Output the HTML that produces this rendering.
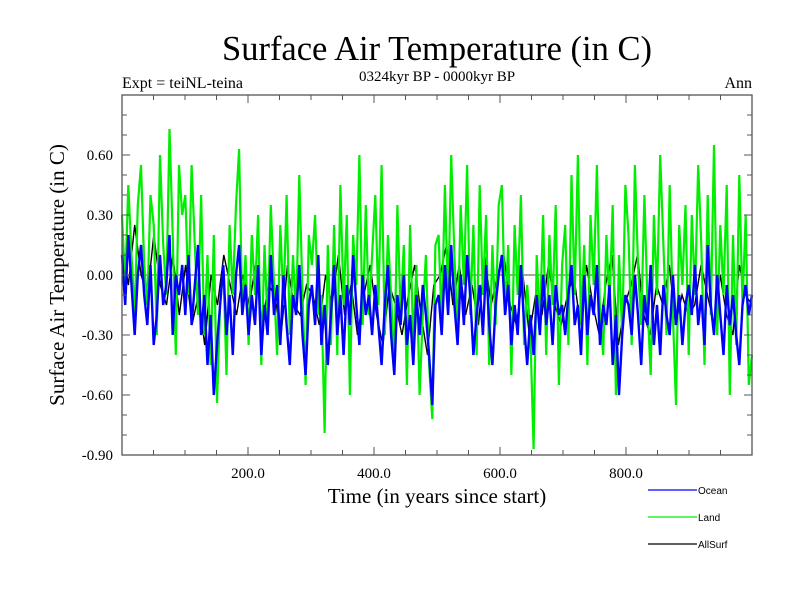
<!DOCTYPE html>
<html><head><meta charset="utf-8"><style>
body{margin:0;background:#fff}
svg{display:block}
.serif{font-family:"Liberation Serif",serif}
.sans{font-family:"Liberation Sans",sans-serif}
</style></head><body>
<svg id="chart" width="800" height="600" xmlns="http://www.w3.org/2000/svg">
<text class="serif" x="437" y="60" font-size="34.5" text-anchor="middle">Surface Air Temperature (in C)</text>
<text class="serif" x="122" y="88" font-size="16">Expt = teiNL-teina</text>
<text class="serif" x="437" y="81" font-size="15" text-anchor="middle">0324kyr BP - 0000kyr BP</text>
<text class="serif" x="752" y="88" font-size="16" text-anchor="end">Ann</text>
<text class="serif" x="437" y="503" font-size="21" text-anchor="middle">Time (in years since start)</text>
<text class="serif" x="0" y="0" font-size="21" text-anchor="middle" transform="translate(64,275) rotate(-90)">Surface Air Temperature (in C)</text>
<g id="plot"></g>
<g id="axes"></g>
<g>
<g><line x1="648" y1="490" x2="697" y2="490" stroke="#0000ff" stroke-width="1.3"/><text class="sans" x="698" y="494" font-size="10">Ocean</text></g>
<g><line x1="648" y1="517" x2="697" y2="517" stroke="#00ee00" stroke-width="1.3"/><text class="sans" x="698" y="521" font-size="10">Land</text></g>
<g><line x1="648" y1="544" x2="697" y2="544" stroke="#000" stroke-width="1.3"/><text class="sans" x="698" y="548" font-size="10">AllSurf</text></g>
</g>
</svg>
<script>
const land = [30,-5,45,10,-20,35,55,5,-15,40,25,-30,60,15,-10,73,20,-40,55,30,
40,-10,55,15,-20,40,-30,10,-45,20,-64,-15,5,-50,25,-10,35,63,-20,10,
-35,20,-10,30,-45,15,-25,35,-5,-40,25,-15,40,-30,10,-20,50,-10,-55,20,
5,30,-20,-10,-79,15,-35,25,-40,45,-15,30,-60,20,-5,60,-25,35,-20,10,
40,-15,55,-30,20,-10,-45,35,-20,15,-55,25,-35,5,-60,-20,10,-45,-72,15,
20,-25,45,-15,60,10,-30,35,-5,55,-20,25,-40,45,-10,30,-45,15,-25,35,
45,-20,15,-50,25,-10,40,-35,-5,-30,-87,10,-25,30,-40,20,-15,35,-55,5,
25,-35,50,-10,60,-25,15,-45,30,-5,55,-20,-40,20,-15,35,-60,10,-30,45,
20,-35,55,5,-25,40,-15,-50,30,-10,60,15,-30,45,-20,-65,25,-5,35,-40,
30,-10,55,15,-45,40,-20,65,-30,25,-10,45,-60,20,-35,50,-15,30,-55,-40];
const ocean = [10,-15,20,-5,-30,0,15,-10,-25,5,-35,-20,10,-15,-5,20,-30,0,-10,5,
-20,10,-25,-5,15,-30,-10,-45,-20,-60,-35,-15,5,-30,-10,-40,0,15,-20,-5,
-30,-10,-25,5,-40,-15,-30,10,-20,-5,-35,0,-25,-45,-10,-20,5,-30,-50,-15,
-5,-25,10,-35,-15,-45,-20,5,-30,-10,-40,-5,-25,10,-15,-35,0,-20,-10,-30,
-5,-25,-45,-15,5,-30,-50,-10,-25,0,-35,-20,-45,-10,-30,-5,-20,-40,-65,-15,
-10,-30,5,-20,15,-15,-35,0,-25,10,-10,-40,-20,-5,-30,5,-25,-45,-15,0,
10,-20,-5,-35,-15,-30,5,-25,-45,-20,-40,-10,-30,0,-25,-10,-35,-5,-20,-15,
-30,-10,5,-25,-15,-40,0,-30,-10,-20,5,-35,-15,-25,-5,-45,-20,-60,-30,-10,
-15,-30,0,-20,-45,-10,-25,5,-35,-15,-40,-5,-20,-30,0,-25,-10,-35,-15,-5,
-20,5,-25,-10,-35,15,-15,-30,0,-20,-40,-5,-25,-10,-30,-45,-15,-5,-20,-10];
const allSurf = [15,-5,25,0,-10,20,-5,-15,10,-20,5,-25,-10,-35,0,-15,10,-5,-20,0,
-15,5,-25,-5,-10,-30,5,-15,-20,-5,-10,-25,0,-15,10,-20,-5,-30,-10,5,
-20,-35,-5,-15,-30,-10,5,-20,-40,-5,0,15,-15,5,-20,-5,-25,10,-15,0,
10,-15,-25,0,-30,-10,-20,5,-15,-25,-10,0,-25,5,-15,-30,-5,10,-35,-15,
-5,10,-20,-30,-5,-15,5,-25,-10,-20,-15,5,-10,-25,0,-20,-30,5,-10,-15];
const yTicks = [0.60,0.30,0.00,-0.30,-0.60,-0.90];
const yTickLabels = ["0.60","0.30","0.00","-0.30","-0.60","-0.90"];
const xTicks = [200,400,600,800];
const xTickLabels = ["200.0","400.0","600.0","800.0"];

const L=122,R=752,T=95,B=455;
const xs = v => L + (v/1000)*(R-L);
const ys = v => 275 - v*200;
const NS="http://www.w3.org/2000/svg";
const plot=document.getElementById('plot'), axes=document.getElementById('axes');
function mk(tag,attrs,parent){const e=document.createElementNS(NS,tag);for(const k in attrs)e.setAttribute(k,attrs[k]);parent.appendChild(e);return e;}

const zl=mk('line',{x1:L,x2:R,y1:ys(0),y2:ys(0),stroke:'#888','stroke-width':1.5},plot);



function series(arr,color,name,w){
  const step=1000/(arr.length-1);
  const pts=arr.map((v,i)=>xs(i*step).toFixed(1)+','+ys(v/100).toFixed(1)).join(' ');
  const p=mk('polyline',{points:pts,fill:'none',stroke:color,'stroke-width':w,'stroke-linejoin':'miter'},plot);
  
  
}
series(allSurf,'#000','allsurf-series',1.4);
series(land,'#00ee00','land-series',2.2);
series(ocean,'#0000ff','ocean-series',2.4);

const frame=mk('rect',{x:L,y:T,width:R-L,height:B-T,fill:'none',stroke:'#555','stroke-width':1.3},axes);


for(let v=-0.9;v<=0.901;v+=0.1){
  const y=ys(v), major=Math.abs(Math.round(v*10)%3)===0, len=major?8:5;
  mk('line',{x1:L,x2:L+len,y1:y,y2:y,stroke:'#555'},axes);
  mk('line',{x1:R,x2:R-len,y1:y,y2:y,stroke:'#555'},axes);
}
for(let x=0;x<=1000;x+=50){
  const major=x%200===0, len=major?8:5;
  mk('line',{x1:xs(x),x2:xs(x),y1:B,y2:B-len,stroke:'#555'},axes);
  mk('line',{x1:xs(x),x2:xs(x),y1:T,y2:T+len,stroke:'#555'},axes);
}
yTicks.forEach((v,i)=>{
  const t=mk('text',{x:113,y:ys(v)+5,'font-size':15,'text-anchor':'end','class':'serif'},axes);
  t.textContent=yTickLabels[i];
  
  
});
xTicks.forEach((v,i)=>{
  const t=mk('text',{x:xs(v),y:478,'font-size':15,'text-anchor':'middle','class':'serif'},axes);
  t.textContent=xTickLabels[i];
  
  
});
</script>
</body></html>
